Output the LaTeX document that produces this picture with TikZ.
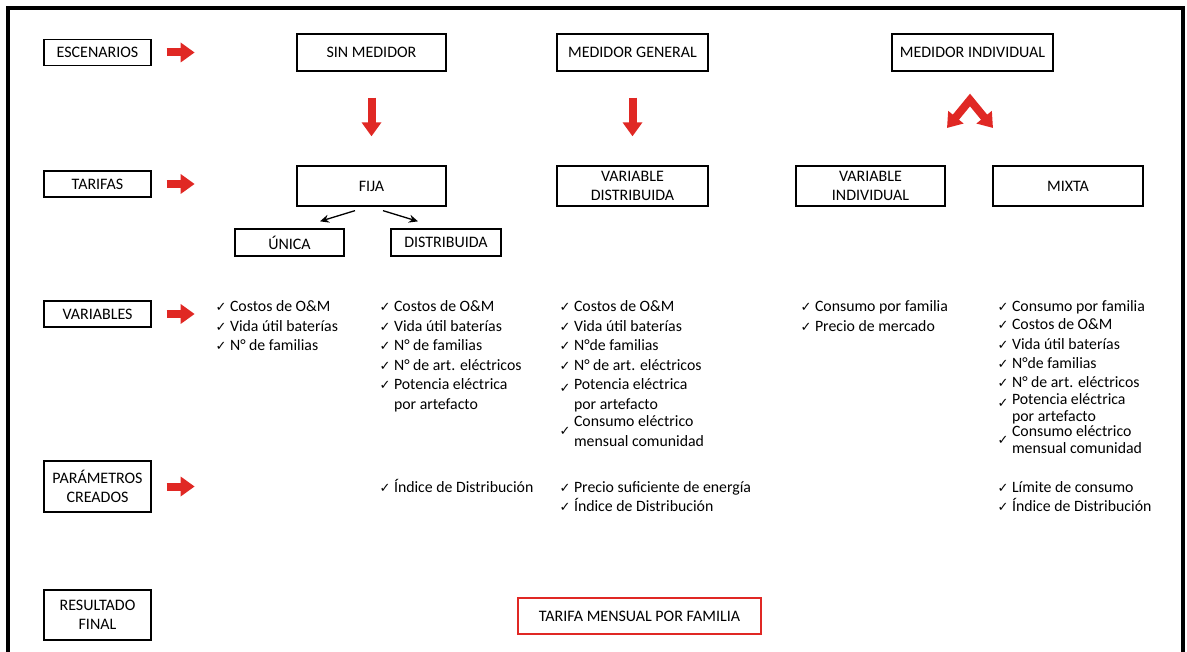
\documentclass[tikz,border=0pt]{standalone}
\usepackage{fontspec}
\setmainfont{Carlito}
\newfontfamily\symfont{DejaVu Sans}
\usepackage{tikz}
\usetikzlibrary{arrows.meta}
\usetikzlibrary{positioning}
\definecolor{arrowred}{RGB}{224,40,36}
\newcommand{\ck}{{\symfont\fontsize{13}{13}\selectfont ✓}}
\newcommand{\lowck}[1]{\raisebox{-#1}{\ck}}
\newenvironment{checklist}{\begin{tabular}[t]{@{}l@{\hspace{3.5pt}}l@{}}}{\end{tabular}}

\begin{document}
\begin{tikzpicture}[x=1pt, y=-1pt, line width=1.3pt,
    font=\fontsize{15.8}{19.5}\selectfont,
    box/.style={draw, inner sep=0, align=center, font=\fontsize{16}{19.5}\selectfont},
    stage/.style={box, minimum width=107pt, minimum height=26pt},
    option/.style={box, minimum width=149pt, minimum height=37pt},
    tariff/.style={box, minimum width=149pt, minimum height=40pt},
    subtariff/.style={box, minimum width=109pt, minimum height=27pt},
    list/.style={anchor=base west, inner sep=0},
    redarrow/.style={arrowred, line width=8pt},
    redtip/.style={-{Triangle[length=14pt, width=19pt]}}]

\useasboundingbox (0,0) rectangle (1187,652);
\draw[line width=3.5pt] (8,660) -- (8,8) -- (1183,8) -- (1183,660);

%% Row labels
\draw
    (97.5,52.5) node [stage, name=escenarios] {ESCENARIOS}
    (97.5,184) node [stage, name=tarifas] {TARIFAS}
    (97.5,314) node [stage, name=variables] {VARIABLES}
    (97.5,486.5) node [stage, minimum height=51pt, name=parametros] {PARÁMETROS\\CREADOS}
    (97.5,615) node [stage, minimum height=50pt, name=resultado] {RESULTADO\\FINAL}
;

%% Scenarios and tariffs
\draw
    (371.5,52.5) node [option, name=sin medidor] {SIN MEDIDOR}
    (632.5,52.5) node [option, minimum width=151pt, name=medidor general] {MEDIDOR GENERAL}
    (972.5,52.5) node [option, minimum width=161pt, name=medidor individual] {MEDIDOR INDIVIDUAL}

    (371.5,186) node [tariff, name=fija] {FIJA}
    (632.5,186) node [tariff, minimum width=151pt, name=variable distribuida] {VARIABLE\\DISTRIBUIDA}
    (870.5,186) node [tariff, name=variable individual] {VARIABLE\\INDIVIDUAL}
    (1068,186) node [tariff, minimum width=150pt, name=mixta] {MIXTA}

    (289.5,242.5) node [subtariff, name=unica] {ÚNICA}
    (446,242.5) node [subtariff, minimum width=110pt, name=distribuida] {DISTRIBUIDA}
;

%% Variables
\node [list, name=unica vars] at (215,312) {\begin{checklist}
    \ck & Costos de O\&M\\
    \ck & Vida útil baterías\\
    \ck & N° de familias
\end{checklist}};
\node [list, name=distribuida vars] at (379,312) {\begin{checklist}
    \ck & Costos de O\&M\\
    \ck & Vida útil baterías\\
    \ck & N° de familias\\
    \ck & N° de art. eléctricos\\
    \ck & Potencia eléctrica\\
        & por artefacto
\end{checklist}};
\node [list, name=general vars] at (559,312) {\begin{checklist}
    \ck & Costos de O\&M\\
    \ck & Vida útil baterías\\
    \ck & N°de familias\\
    \ck & N° de art. eléctricos\\
    \lowck{3pt} & Potencia eléctrica\\
        & por artefacto\\[-2pt]
    \lowck{9pt} & Consumo eléctrico\\[-3pt]
        & mensual comunidad
\end{checklist}};
\node [list, name=individual vars] at (800,312) {\begin{checklist}
    \ck & Consumo por familia\\
    \ck & Precio de mercado
\end{checklist}};
\node [list, name=mixta vars] at (997,312) {\begin{checklist}
    \ck & Consumo por familia\\[-1.5pt]
    \ck & Costos de O\&M\\
    \ck & Vida útil baterías\\[-0.5pt]
    \ck & N°de familias\\
    \ck & N° de art. eléctricos\\[-2.5pt]
    \lowck{3pt} & Potencia eléctrica\\[-2.5pt]
        & por artefacto\\[-4.5pt]
    \lowck{8pt} & Consumo eléctrico\\[-5.5pt]
        & mensual comunidad
\end{checklist}};

%% Created parameters
\node [list, name=distribuida params] at (379,492) {\begin{checklist}
    \ck & Índice de Distribución
\end{checklist}};
\node [list, name=general params] at (559,492) {\begin{checklist}
    \ck & Precio suficiente de energía\\
    \ck & Índice de Distribución
\end{checklist}};
\node [list, name=mixta params] at (997,492) {\begin{checklist}
    \ck & Límite de consumo\\
    \ck & Índice de Distribución
\end{checklist}};

\node [box, draw=arrowred, line width=2.5pt, minimum width=243pt, minimum height=36pt, name=tarifa mensual]
    at (639.5,616) {TARIFA MENSUAL POR FAMILIA};

%% Arrows
\foreach \row in {escenarios, tarifas, variables, parametros}
    \draw[redarrow, redtip] ([xshift=15pt]\row.east) -- ([xshift=43pt]\row.east);

\draw[redarrow, redtip, shorten <=26pt, shorten >=29pt] (sin medidor) -- (fija);
\draw[redarrow, redtip, shorten <=26pt, shorten >=29pt] (medidor general) -- (variable distribuida);

\coordinate (caret top) at (970,100);
\coordinate (caret left) at (947,128);
\coordinate (caret right) at (993,128);
\draw[redarrow, line join=miter, {Triangle[length=14pt, width=19pt]}-{Triangle[length=14pt, width=19pt]}]
    (caret left) -- (caret top) -- (caret right);

\draw[-{Stealth[length=9pt, width=8pt]}] ([xshift=-16.5pt, yshift=-4pt]fija.south) -- ([xshift=30.5pt, yshift=7pt]unica.north);
\draw[-{Stealth[length=9pt, width=8pt]}] ([xshift=11.5pt, yshift=-4pt]fija.south) -- ([xshift=-28pt, yshift=7pt]distribuida.north);

\end{tikzpicture}
\end{document}
